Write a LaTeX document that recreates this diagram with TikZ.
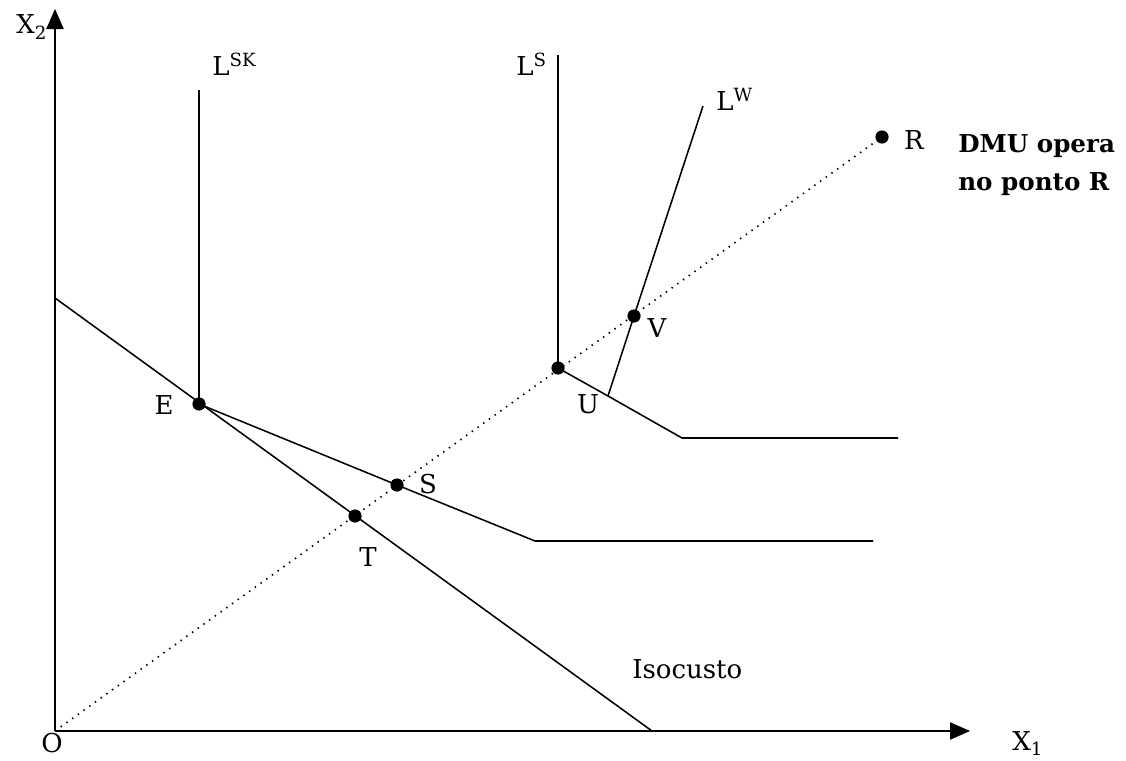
\documentclass[tikz,border=0pt]{standalone}
\usepackage{fontspec}
\setmainfont{DejaVu Serif}
\usetikzlibrary{arrows.meta}

\begin{document}
\begin{tikzpicture}[x=0.25mm, y=-0.25mm,
  axis/.style={line width=1.1pt, -{Triangle[length=5mm, width=4.3mm]}},
  isoline/.style={line width=1.1pt},
  ray/.style={line width=1.2pt, dash pattern=on 1pt off 4pt},
  dot/.style={circle, fill, inner sep=0pt, minimum size=3.3mm},
  lbl/.style={font=\fontsize{18.5}{22}\selectfont, inner sep=0pt},
  note/.style={font=\bfseries\fontsize{17.5}{27}\selectfont, align=left, inner sep=0pt}
]
\useasboundingbox (0,0) rectangle (1126,761);

% axes
\coordinate (O) at (55,731);
\coordinate (x1end) at (970,731);
\coordinate (x2end) at (55,9);
\draw[axis] (O) -- (x1end);
\draw[axis] (O) -- (x2end);
\node[lbl, anchor=base west] (x1lbl) at (1012,750) {X\textsubscript{1}};
\node[lbl, anchor=base west] (x2lbl) at (16,34) {X\textsubscript{2}};
\node[lbl] (olbl) at (52,743) {O};

% points
\node[dot] (E) at (199,404) {};
\node[dot] (T) at (355,516) {};
\node[dot] (S) at (397,485) {};
\node[dot] (C) at (558,368) {};
\node[dot] (V) at (634,316) {};
\node[dot] (R) at (882,137) {};
\coordinate (U) at (608,396);

% ray through R
\draw[ray] (O) -- (R);

% isocost
\coordinate (isoA) at (55,298);
\coordinate (isoB) at (652,731);
\draw[isoline] (isoA) -- (isoB);

% lower isoquant
\coordinate (lowK) at (535,541);
\coordinate (lowEnd) at (873,541);
\coordinate (skTop) at (199,90);
\draw[isoline] (skTop) -- (E.center) -- (S.center) -- (lowK) -- (lowEnd);

% upper isoquant
\coordinate (upK) at (682,438);
\coordinate (upEnd) at (898,438);
\coordinate (sTop) at (558,55);
\draw[isoline] (sTop) -- (C.center) -- (U) -- (upK) -- (upEnd);

% L^W
\coordinate (wTop) at (703,106);
\draw[isoline] (U) -- (V.center) -- (wTop);

% labels
\node[lbl, anchor=base west] (lsk) at (212,75) {L\textsuperscript{SK}};
\node[lbl, anchor=base west] (ls) at (516,75) {L\textsuperscript{S}};
\node[lbl, anchor=base west] (lw) at (716,110) {L\textsuperscript{W}};
\node[lbl] (elbl) at (164,405) {E};
\node[lbl] (slbl) at (428,484) {S};
\node[lbl] (tlbl) at (368,557) {T};
\node[lbl] (ulbl) at (588,404) {U};
\node[lbl] (vlbl) at (657,328) {V};
\node[lbl] (rlbl) at (914,140) {R};
\node[lbl, anchor=base west] (isolbl) at (632,678) {Isocusto};
\node[note, anchor=north west] (dmu) at (958,134) {DMU opera\\no ponto R};
\end{tikzpicture}
\end{document}
